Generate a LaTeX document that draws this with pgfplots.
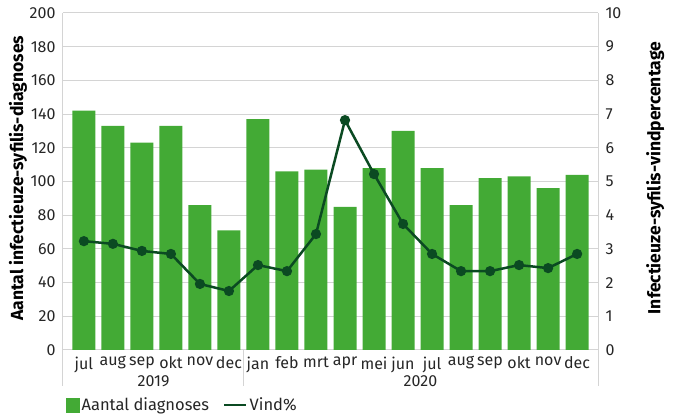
\documentclass[border=0pt]{standalone}
\usepackage{fontspec}
\setmainfont{Fira Sans}
\usepackage{pgfplots}
\pgfplotsset{compat=1.18}
\definecolor{barg}{HTML}{43AA35}
\definecolor{lineg}{HTML}{0B4A22}
\definecolor{gridc}{HTML}{D4D4D4}
\definecolor{txt}{HTML}{262626}
\begin{document}
\fontsize{16}{18}\selectfont
\begin{tikzpicture}
\pgfplotsset{
  base/.style={
    width=535pt, height=337pt, scale only axis,
    xmin=-0.72, xmax=17.72,
    clip=false,
    major tick length=0pt,
    tick label style={font=\fontsize{16}{18}\selectfont, text=txt},
    /pgf/number format/assume math mode=true,
    axis line style={draw=gridc, line width=1pt},
  }
}
\begin{axis}[base, name=main,
  ymin=0, ymax=200, ytick={0,20,...,200},
  axis x line*=bottom, axis y line*=left,
  ymajorgrids, grid style={gridc, line width=1pt},
  xtick={0,...,17},
  xticklabels={jul,aug,sep,okt,nov,dec,jan,feb,mrt,apr,mei,jun,jul,aug,sep,okt,nov,dec},
  xticklabel style={yshift=-1pt, inner xsep=0pt},
  yticklabel style={xshift=-2pt},
  ylabel={\bfseries Aantal infectieuze-syfilis-diagnoses},
  every axis y label/.style={at={(axis description cs:-0.084,0.51)}, rotate=90, anchor=center, font=\fontsize{17.5}{20}\selectfont, text=black},
]
\addplot[ybar, bar width=23pt, fill=barg, draw=none] coordinates {
(0,142) (1,133) (2,123) (3,133) (4,86) (5,71) (6,137) (7,106) (8,107) (9,85)
(10,108) (11,130) (12,108) (13,86) (14,102) (15,103) (16,96) (17,104)};
\draw[gridc, line width=1pt] (axis cs:5.5,0) -- ++(0pt,-36pt);
\draw[gridc, line width=1pt] (axis cs:-0.72,0) -- ++(0pt,-36pt);
\draw[gridc, line width=1pt] (axis cs:17.72,0) -- ++(0pt,-36pt);
\node[text=txt, font=\fontsize{16}{18}\selectfont] at ([yshift=-31pt]axis cs:2.4,0) {2019};
\node[text=txt, font=\fontsize{16}{18}\selectfont] at ([yshift=-31pt]axis cs:11.6,0) {2020};
\end{axis}
\begin{axis}[base,
  ymin=0, ymax=10, ytick={0,1,...,10},
  axis x line=none, axis y line*=right,
  yticklabel style={xshift=2pt},
  ylabel={\bfseries Infectieuze-syfilis-vindpercentage},
  every axis y label/.style={at={(axis description cs:1.107,0.51)}, rotate=90, anchor=center, font=\fontsize{17.5}{20}\selectfont, text=black},
  legend style={at={(axis description cs:0.0,-0.163)}, anchor=west, draw=none, fill=none,
    legend columns=2, font=\fontsize{16.5}{18}\selectfont, text=txt,
    inner ysep=1pt,
    /tikz/every even column/.append style={column sep=12pt}},
]
\addlegendimage{legend image code/.code={\fill[barg] (0pt,-7pt) rectangle (13pt,7pt);}}
\addlegendentry{Aantal diagnoses}
\addplot[lineg, line width=2.5pt, mark=*, mark size=3.8pt, mark options={fill=lineg, draw=lineg},
  legend image code/.code={\draw[lineg, line width=2.5pt] (0pt,0pt) -- (22pt,0pt);}] coordinates {
(0,3.23) (1,3.15) (2,2.94) (3,2.85) (4,1.96) (5,1.75) (6,2.52) (7,2.34) (8,3.44) (9,6.82)
(10,5.22) (11,3.74) (12,2.85) (13,2.34) (14,2.34) (15,2.52) (16,2.43) (17,2.85)};
\addlegendentry{Vind\%}
\end{axis}
\pgfresetboundingbox
\path[use as bounding box] ([xshift=-63pt,yshift=-67pt]main.south west) rectangle ([xshift=75pt,yshift=13pt]main.north east);
\end{tikzpicture}
\end{document}
